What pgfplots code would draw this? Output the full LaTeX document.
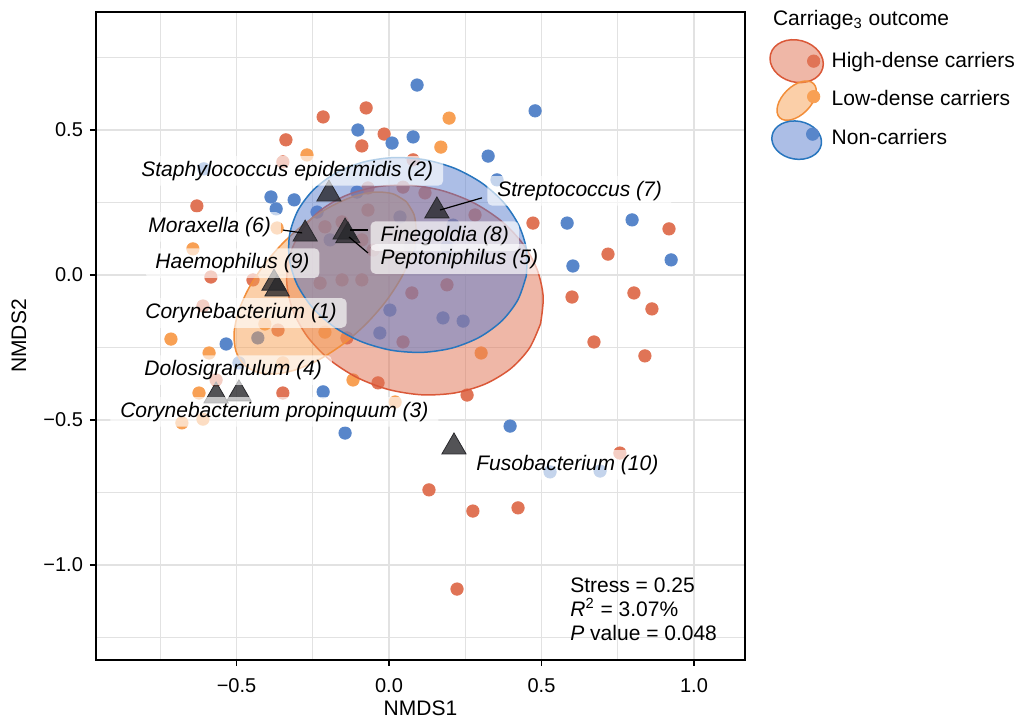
\documentclass[border=0pt]{standalone}
\usepackage{fontspec}
\setmainfont{Liberation Sans}
\usepackage{pgfplots}
\pgfplotsset{compat=1.18}

\definecolor{hdpt}{RGB}{224,116,86}
\definecolor{ldpt}{RGB}{248,160,84}
\definecolor{ncpt}{RGB}{88,134,202}
\definecolor{hdline}{RGB}{218,88,56}
\definecolor{ldline}{RGB}{242,142,58}
\definecolor{ncline}{RGB}{40,118,190}
\definecolor{hdfill}{RGB}{224,112,80}
\definecolor{ldfill}{RGB}{247,160,82}
\definecolor{ncfill}{RGB}{90,125,205}
\definecolor{tri}{RGB}{40,40,44}
\definecolor{gridc}{RGB}{226,226,226}

\tikzset{
  lab/.style={fill=white, fill opacity=0.65, text opacity=1, rounded corners=2.5pt,
    inner xsep=5pt, inner ysep=2.5pt, anchor=west, text height=7.6pt, text depth=2.2pt,
    font=\fontsize{10.5}{12}\selectfont\itshape},
}

\begin{document}
\begin{tikzpicture}
\begin{axis}[
  x=152.5pt, y=145pt,
  xmin=-0.9607, xmax=1.1672, ymin=-1.3276, ymax=0.9069,
  axis line style={line width=0.75pt, black},
  xtick={-0.5,0,0.5,1}, xticklabels={−0.5,0.0,0.5,1.0},
  ytick={-1,-0.5,0,0.5}, yticklabels={−1.0,−0.5,0.0,0.5},
  minor xtick={-0.75,-0.25,0.25,0.75},
  minor ytick={-1.25,-0.75,-0.25,0.25,0.75},
  grid=both,
  major grid style={gridc, line width=0.8pt},
  minor grid style={gridc, line width=0.55pt},
  tick align=outside, tick pos=left,
  major tick length=3pt, minor tick length=0pt,
  tick style={black, line width=0.6pt},
  ticklabel style={font=\fontsize{10}{12}\selectfont, black},
  xticklabel shift=2.5pt,
  xlabel={NMDS1}, ylabel={NMDS2},
  label style={font=\fontsize{10.5}{12}\selectfont},
  xlabel style={at={(axis description cs:0.5,-0.0741)}, anchor=center},
  ylabel style={at={(axis description cs:-0.1188,0.5)}, anchor=center},
  clip mode=individual,
  legend style={at={(axis description cs:1.0426,0.9519)}, anchor=north west,
    draw=none, fill=none, inner sep=0pt, outer sep=0pt,
    row sep=1.25pt, column sep=5.5pt,
    nodes={inner sep=0pt}, font=\fontsize{10.5}{12}\selectfont},
  legend cell align=left,
]
\coordinate (bl) at (rel axis cs:0,0);

% samples: high-dense carriers
\addplot[forget plot, only marks, mark=*, mark size=3.1pt, color=hdpt] coordinates {
(-0.216,0.545) (-0.075,0.576) (-0.016,0.486) (-0.338,0.466) (-0.089,0.445)
(-0.348,0.390) (-0.630,0.238) (0.918,0.159) (0.718,0.072) (0.600,-0.076)
(0.803,-0.062) (0.862,-0.117) (0.672,-0.231) (0.839,-0.279) (0.256,-0.414)
(0.131,-0.741) (0.275,-0.814) (0.423,-0.803) (0.223,-1.083) (0.757,-0.614)
(-0.584,-0.007) (-0.446,-0.017) (-0.610,-0.107) (-0.567,-0.362) (-0.348,-0.407)
(-0.036,-0.372) (0.472,0.179) (-0.069,0.300) (0.118,0.283) (0.282,0.207)
(0.079,0.397) (0.075,-0.062) (0.046,-0.231) (0.190,-0.034) (-0.138,-0.217)
(-0.364,-0.190) (-0.226,-0.028) (-0.154,-0.017) (-0.089,-0.017) (-0.069,0.224)
(-0.154,0.183) (-0.210,0.166) (-0.089,0.121) (-0.052,0.086) (0.046,0.303)
};
% samples: low-dense carriers
\addplot[forget plot, only marks, mark=*, mark size=3.1pt, color=ldpt] coordinates {
(0.197,0.541) (0.170,0.441) (-0.269,0.414) (-0.643,0.090) (-0.715,-0.221)
(-0.590,-0.269) (-0.623,-0.407) (-0.679,-0.510) (-0.610,-0.497) (0.302,-0.269)
(0.020,-0.438) (-0.210,-0.197) (-0.118,-0.362) (-0.367,0.162) (-0.407,-0.169)
(-0.348,-0.303)
};
% samples: non-carriers
\addplot[forget plot, only marks, mark=*, mark size=3.1pt, color=ncpt] coordinates {
(0.092,0.655) (0.479,0.566) (-0.102,0.500) (0.010,0.455) (0.079,0.476)
(0.325,0.410) (-0.607,0.366) (0.354,0.328) (-0.387,0.269) (-0.311,0.259)
(-0.370,0.228) (0.584,0.179) (0.797,0.190) (0.603,0.031) (0.925,0.052)
(-0.534,-0.238) (-0.492,-0.303) (-0.216,-0.403) (-0.144,-0.545) (0.397,-0.521)
(0.528,-0.679) (0.692,-0.676) (-0.105,0.286) (0.177,-0.148) (0.243,-0.159)
(-0.030,-0.200) (-0.430,-0.217) (-0.193,0.121) (0.036,0.200) (0.190,0.097)
(-0.236,0.217) (0.069,0.097) (0.210,0.172) (0.003,-0.121)
};

% group ellipses
\addplot[forget plot, smooth, draw=hdline, line width=0.75pt, fill=hdfill, fill opacity=0.5] coordinates {
(0.4969,-0.1677) (0.5055,-0.0749) (0.4854,0.0194) (0.4381,0.1089) (0.3668,0.1874)
(0.2761,0.2497) (0.1726,0.2914) (0.0631,0.3097) (-0.0450,0.3034) (-0.1441,0.2729)
(-0.2276,0.2204) (-0.2899,0.1491) (-0.3265,0.0643) (-0.3351,-0.0285) (-0.3150,-0.1228)
(-0.2677,-0.2123) (-0.1964,-0.2908) (-0.1057,-0.3531) (-0.0022,-0.3948) (0.1073,-0.4131)
(0.2154,-0.4068) (0.3145,-0.3763) (0.3980,-0.3238) (0.4603,-0.2525) (0.4969,-0.1677)
} -- cycle;
\addplot[forget plot, smooth, draw=ldline, line width=0.75pt, fill=ldfill, fill opacity=0.5] coordinates {
(0.0568,0.2528) (0.0129,0.2798) (-0.0462,0.2859) (-0.1164,0.2707) (-0.1930,0.2351)
(-0.2707,0.1816) (-0.3443,0.1138) (-0.4087,0.0364) (-0.4596,-0.0453) (-0.4934,-0.1259)
(-0.5080,-0.1997) (-0.5021,-0.2618) (-0.4764,-0.3080) (-0.4325,-0.3350) (-0.3734,-0.3411)
(-0.3032,-0.3259) (-0.2266,-0.2903) (-0.1489,-0.2368) (-0.0753,-0.1690) (-0.0109,-0.0916)
(0.0400,-0.0099) (0.0738,0.0707) (0.0884,0.1445) (0.0825,0.2066) (0.0568,0.2528)
} -- cycle;
\addplot[forget plot, smooth, draw=ncline, line width=0.75pt, fill=ncfill, fill opacity=0.5] coordinates {
(0.4502,-0.0029) (0.4513,0.0846) (0.4258,0.1709) (0.3756,0.2504) (0.3040,0.3174)
(0.2159,0.3676) (0.1174,0.3974) (0.0151,0.4048) (-0.0840,0.3894) (-0.1730,0.3520)
(-0.2460,0.2955) (-0.2981,0.2234) (-0.3256,0.1409) (-0.3267,0.0534) (-0.3012,-0.0329)
(-0.2510,-0.1124) (-0.1794,-0.1794) (-0.0913,-0.2296) (0.0072,-0.2594) (0.1095,-0.2668)
(0.2086,-0.2514) (0.2976,-0.2140) (0.3706,-0.1575) (0.4227,-0.0854) (0.4502,-0.0029)
} -- cycle;

% taxa
\addplot[forget plot, only marks, mark=triangle*, mark size=7pt, color=tri,
  mark options={draw=none, fill opacity=0.8}] coordinates {
(-0.367,-0.048) (-0.377,-0.028) (-0.197,0.279) (-0.567,-0.417) (-0.492,-0.410)
(-0.135,0.135) (-0.144,0.148) (-0.275,0.141) (0.157,0.221) (0.213,-0.593)
};

% label connectors
\addplot[forget plot, black, line width=0.6pt] coordinates {(-0.348,0.155) (-0.285,0.145)};
\addplot[forget plot, black, line width=0.6pt] coordinates {(-0.069,0.155) (-0.128,0.155)};
\addplot[forget plot, black, line width=0.6pt] coordinates {(-0.069,0.076) (-0.131,0.131)};
\addplot[forget plot, black, line width=0.6pt] coordinates {(0.305,0.266) (0.167,0.224)};

\node[lab] at (axis cs:-0.846,0.359) {Staphylococcus epidermidis (2)};
\node[lab] at (axis cs:0.321,0.290) {Streptococcus (7)};
\node[lab] at (axis cs:-0.823,0.166) {Moraxella (6)};
\node[lab] at (axis cs:-0.062,0.134) {Finegoldia (8)};
\node[lab] at (axis cs:-0.062,0.055) {Peptoniphilus (5)};
\node[lab] at (axis cs:-0.800,0.041) {Haemophilus (9)};
\node[lab] at (axis cs:-0.833,-0.131) {Corynebacterium (1)};
\node[lab] at (axis cs:-0.836,-0.328) {Dolosigranulum (4)};
\node[lab] at (axis cs:-0.915,-0.472) {Corynebacterium propinquum (3)};
\node[lab] at (axis cs:0.252,-0.655) {Fusobacterium (10)};

\node[anchor=west, align=left, inner sep=0pt, font=\fontsize{10.5}{12}\selectfont]
  at (axis cs:0.5934,-1.152) {Stress = 0.25\\\textit{R}\textsuperscript{2} = 3.07\%\\\textit{P} value = 0.048};

\node[anchor=west, inner sep=0pt, font=\fontsize{10.5}{12}\selectfont]
  at (axis description cs:1.0426,0.9874) {Carriage\textsubscript{3} outcome};

\addlegendimage{legend image code/.code={
  \path[draw=none, fill=none] (0pt,-9pt) rectangle (24pt,9pt);
  \filldraw[overlay, draw=hdline, fill=hdfill, fill opacity=0.5, line width=0.75pt,
    rotate around={-15:(12pt,0pt)}] (12pt,0pt) ellipse [x radius=13.5pt, y radius=10.5pt];
  \fill[overlay, hdpt] (20.5pt,0pt) circle (3.1pt);
}}
\addlegendentry{High-dense carriers}
\addlegendimage{legend image code/.code={
  \path[draw=none, fill=none] (0pt,-9pt) rectangle (24pt,9pt);
  \filldraw[overlay, draw=ldline, fill=ldfill, fill opacity=0.5, line width=0.75pt,
    rotate around={45:(12pt,-0.5pt)}] (12pt,-0.5pt) ellipse [x radius=12pt, y radius=7pt];
  \fill[overlay, ldpt] (20.5pt,1.5pt) circle (3.1pt);
}}
\addlegendentry{Low-dense carriers}
\addlegendimage{legend image code/.code={
  \path[draw=none, fill=none] (0pt,-9pt) rectangle (24pt,9pt);
  \filldraw[overlay, draw=ncline, fill=ncfill, fill opacity=0.5, line width=0.75pt,
    rotate around={-10:(12pt,-1pt)}] (12pt,-1pt) ellipse [x radius=12.5pt, y radius=9.5pt];
  \fill[overlay, ncpt] (20pt,2pt) circle (3.1pt);
}}
\addlegendentry{Non-carriers}
\end{axis}
\pgfresetboundingbox
\path ([shift={(-48pt,-30.5pt)}]bl) rectangle ([shift={(460.5pt,330pt)}]bl);
\end{tikzpicture}
\end{document}
